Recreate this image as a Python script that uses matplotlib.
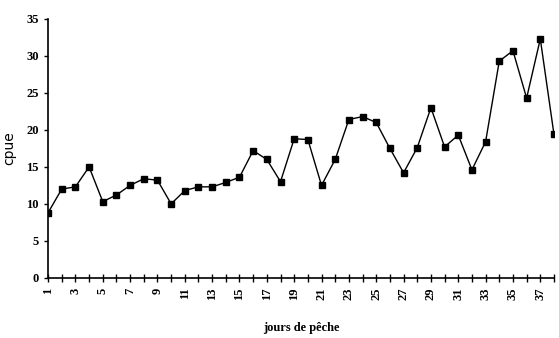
import matplotlib
matplotlib.use("Agg")
import matplotlib.pyplot as plt

# jours de peche 1..38 and cpue values
days = list(range(1, 39))
cpue = [8.8, 12.0, 12.3, 15.0, 10.3, 11.2, 12.5, 13.4, 13.2, 10.0,
        11.8, 12.3, 12.3, 12.9, 13.6, 17.2, 16.0, 13.0, 18.8, 18.7,
        12.5, 16.0, 21.4, 21.8, 21.0, 17.5, 14.2, 17.6, 23.0, 17.7,
        19.3, 14.6, 18.4, 29.3, 30.7, 24.3, 32.3, 19.4]
y_ticks = [0, 5, 10, 15, 20, 25, 30, 35]
x_labels = list(range(1, 38, 2))

fig = plt.figure(figsize=(5.59, 3.38), dpi=100)
ax = fig.add_axes([0.086, 0.178, 0.905, 0.766])

ax.plot(days, cpue, color='black', linewidth=1.0, marker='s',
        markersize=4.5, markerfacecolor='black', markeredgecolor='black')

ax.set_xlim(1, 38)
ax.set_ylim(0, 35)
ax.set_yticks(y_ticks)
ax.set_xticks(days, minor=True)
ax.set_xticks(x_labels)
ax.set_xticklabels([str(v) for v in x_labels], rotation=90,
                   fontsize=9, fontweight='bold', family='Liberation Serif')
ax.set_yticklabels([str(v) for v in y_ticks], fontsize=9,
                   fontweight='bold', family='Liberation Serif')

ax.spines['top'].set_visible(False)
ax.spines['right'].set_visible(False)
ax.spines['left'].set_linewidth(1.2)
ax.spines['bottom'].set_linewidth(1.2)
ax.tick_params(axis='x', which='both', direction='inout', length=6, width=1, pad=4)
ax.tick_params(axis='y', direction='out', length=3, width=1)

ax.set_ylabel('cpue', fontsize=10)
ax.yaxis.set_label_coords(-0.062, 0.5)
ax.set_xlabel('jours de pêche', fontsize=9, fontweight='bold',
              family='Liberation Serif', labelpad=16)

fig.savefig('out.png', dpi=100)
